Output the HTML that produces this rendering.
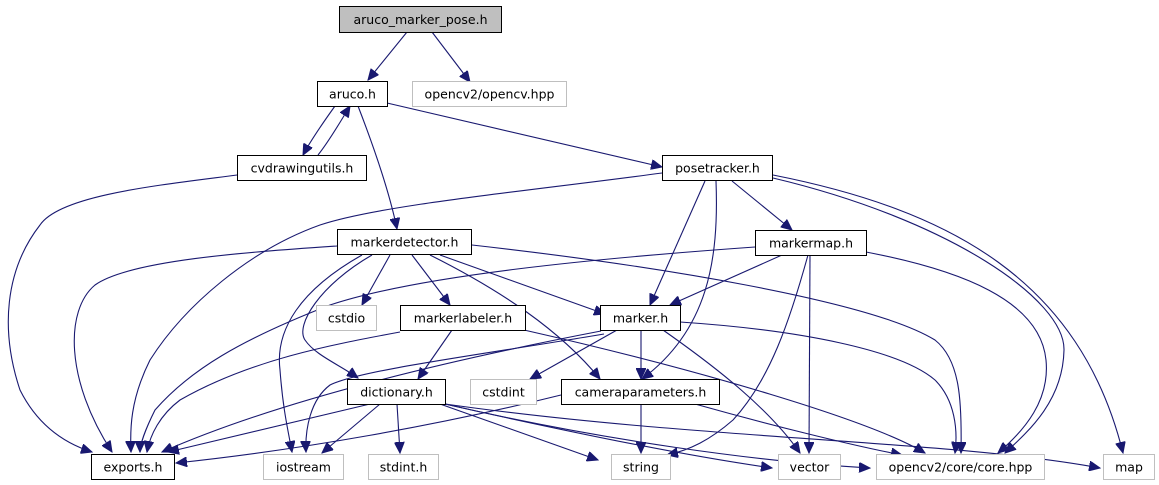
<!DOCTYPE html>
<html><head><meta charset="utf-8"><style>
html,body{margin:0;padding:0;background:#fff;width:1159px;height:485px;overflow:hidden}
svg{display:block}
text{font-family:"DejaVu Sans","Liberation Sans",sans-serif;font-size:12.5px;fill:#000}
.e{fill:none;stroke:#191970;stroke-width:1.1}
.b{fill:#fff;stroke:#000;stroke-width:1}
.g{fill:#fff;stroke:#bfbfbf;stroke-width:1}
</style></head><body>
<svg width="1159" height="485" viewBox="0 0 1159 485" xmlns="http://www.w3.org/2000/svg">
<defs>
<marker id="a" markerUnits="userSpaceOnUse" markerWidth="12" markerHeight="10" refX="11" refY="5" orient="auto">
<path d="M0,0 L11,5 L0,10 z" fill="#191970" stroke="#191970"/>
</marker>
</defs>
<g marker-end="url(#a)">
<path class="e" d="M407,32 L368,80"/>
<path class="e" d="M432,32 L470,82"/>
<path class="e" d="M335,106 C325,120 312,138 303,155"/>
<path class="e" d="M318,155 C330,140 340,122 350,106"/>
<path class="e" d="M358,106 C375,150 390,195 397,229"/>
<path class="e" d="M387,103 L662,167"/>
<path class="e" d="M237,175 C160,185 60,195 40,225 C5,270 0,330 20,390 C40,430 70,445 92,452"/>
<path class="e" d="M662,173 C520,192 380,205 320,225 C250,250 185,305 150,360 C130,400 130,430 131,452"/>
<path class="e" d="M705,181 L650,305"/>
<path class="e" d="M716,181 C719,260 708,330 642,379"/>
<path class="e" d="M732,181 L792,230"/>
<path class="e" d="M773,178 C950,220 1065,300 1064,350 C1063,400 1030,430 1005,453"/>
<path class="e" d="M773,175 C950,210 1080,280 1123,453"/>
<path class="e" d="M337,246 C250,252 130,260 95,285 C65,310 65,380 112,452"/>
<path class="e" d="M390,255 L362,305"/>
<path class="e" d="M412,255 L450,305"/>
<path class="e" d="M440,255 L605,314"/>
<path class="e" d="M430,255 C500,290 560,330 600,379"/>
<path class="e" d="M372,255 C320,285 295,325 305,340 C315,355 340,365 358,378"/>
<path class="e" d="M362,255 C300,290 275,330 280,370 C283,410 288,430 292,452"/>
<path class="e" d="M472,245 C650,265 870,300 935,340 C960,360 962,400 961,453"/>
<path class="e" d="M755,247 C600,258 420,275 330,305 C240,340 190,370 155,410 C145,430 140,445 140,452"/>
<path class="e" d="M782,255 L670,305"/>
<path class="e" d="M808,255 C790,320 770,380 733,420 C710,440 690,450 667,455"/>
<path class="e" d="M810,255 L809,453"/>
<path class="e" d="M866,252 C960,270 1040,300 1046,360 C1050,400 1025,430 998,453"/>
<path class="e" d="M400,332 C330,345 250,360 180,400 C160,415 150,435 147,452"/>
<path class="e" d="M524,330 C700,370 870,420 925,453"/>
<path class="e" d="M452,330 L418,379"/>
<path class="e" d="M601,331 C450,360 280,400 162,452"/>
<path class="e" d="M604,334 C480,355 360,370 330,385 C310,400 305,430 306,452"/>
<path class="e" d="M617,330 L530,379"/>
<path class="e" d="M641,330 L641,379"/>
<path class="e" d="M663,330 C720,370 770,410 800,453"/>
<path class="e" d="M680,322 C800,330 900,350 935,380 C955,400 958,430 955,453"/>
<path class="e" d="M370,404 L168,452"/>
<path class="e" d="M380,404 L322,453"/>
<path class="e" d="M397,404 L400,453"/>
<path class="e" d="M440,404 L598,460"/>
<path class="e" d="M445,404 C560,430 680,455 772,468"/>
<path class="e" d="M445,404 C600,440 760,462 870,468"/>
<path class="e" d="M445,404 C700,440 950,440 1100,468"/>
<path class="e" d="M561,395 C440,425 300,450 176,463"/>
<path class="e" d="M641,404 L641,453"/>
<path class="e" d="M695,404 C770,425 850,445 902,455"/>
</g>
<rect x="339.5" y="6.5" width="162" height="26" fill="#bfbfbf" stroke="#000"/>
<text x="420.5" y="24" text-anchor="middle">aruco_marker_pose.h</text>
<rect class="b" x="317.5" y="81.5" width="70" height="25"/><text x="352.5" y="98.5" text-anchor="middle">aruco.h</text>
<rect class="g" x="412.5" y="81.5" width="154" height="25"/><text x="489.5" y="98.5" text-anchor="middle">opencv2/opencv.hpp</text>
<rect class="b" x="237.5" y="155.5" width="129" height="25"/><text x="302" y="172.5" text-anchor="middle">cvdrawingutils.h</text>
<rect class="b" x="662.5" y="155.5" width="110" height="25"/><text x="717.5" y="172.5" text-anchor="middle">posetracker.h</text>
<rect class="b" x="337.5" y="229.5" width="134" height="25"/><text x="404.5" y="246.5" text-anchor="middle">markerdetector.h</text>
<rect class="b" x="755.5" y="230.5" width="111" height="25"/><text x="811" y="247.5" text-anchor="middle">markermap.h</text>
<rect class="g" x="316.5" y="305.5" width="60" height="25"/><text x="346.5" y="322.5" text-anchor="middle">cstdio</text>
<rect class="b" x="400.5" y="305.5" width="125" height="25"/><text x="463" y="322.5" text-anchor="middle">markerlabeler.h</text>
<rect class="b" x="600.5" y="305.5" width="80" height="25"/><text x="640.5" y="322.5" text-anchor="middle">marker.h</text>
<rect class="g" x="470.5" y="379.5" width="66" height="25"/><text x="503.5" y="396.5" text-anchor="middle">cstdint</text>
<rect class="b" x="347.5" y="379.5" width="98" height="25"/><text x="396.5" y="396.5" text-anchor="middle">dictionary.h</text>
<rect class="b" x="561.5" y="379.5" width="158" height="25"/><text x="640.5" y="396.5" text-anchor="middle">cameraparameters.h</text>
<rect class="b" x="91.5" y="454.5" width="83" height="25"/><text x="133" y="471.5" text-anchor="middle">exports.h</text>
<rect class="g" x="263.5" y="454.5" width="80" height="25"/><text x="303.5" y="471.5" text-anchor="middle">iostream</text>
<rect class="g" x="368.5" y="454.5" width="70" height="25"/><text x="403.5" y="471.5" text-anchor="middle">stdint.h</text>
<rect class="g" x="611.5" y="454.5" width="59" height="25"/><text x="641" y="471.5" text-anchor="middle">string</text>
<rect class="g" x="778.5" y="454.5" width="62" height="25"/><text x="809.5" y="471.5" text-anchor="middle">vector</text>
<rect class="g" x="876.5" y="454.5" width="168" height="25"/><text x="960.5" y="471.5" text-anchor="middle">opencv2/core/core.hpp</text>
<rect class="g" x="1103.5" y="454.5" width="51" height="25"/><text x="1129" y="471.5" text-anchor="middle">map</text>
</svg>
</body></html>
